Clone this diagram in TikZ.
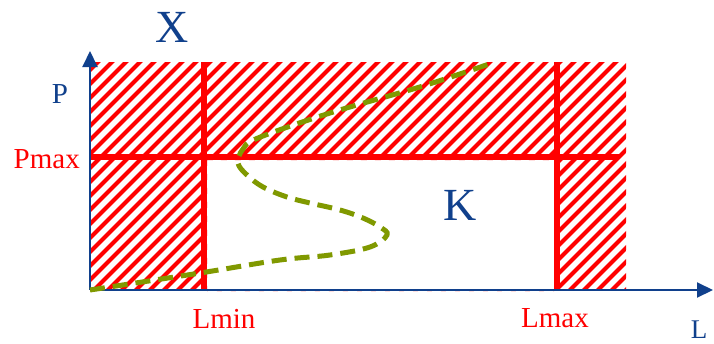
\documentclass[tikz,border=0pt]{standalone}
\usepackage{fontspec}
\setmainfont{Liberation Serif}
\usetikzlibrary{arrows.meta}
\definecolor{axblue}{RGB}{16,64,140}
\definecolor{olive}{RGB}{128,153,0}
\begin{document}
\begin{tikzpicture}[x=1pt,y=-1pt,
  bluetxt/.style={text=axblue,inner sep=0pt,anchor=base},
  redtxt/.style={text=red,inner sep=0pt,anchor=base,font=\fontsize{29}{30}\selectfont},
  limline/.style={red,line width=6pt},
  hatchline/.style={red,line width=4.2pt},
  axis/.style={axblue,line width=2pt,-{Triangle[length=16pt,width=15pt]}},
  traj/.style={olive,line width=5pt,dash pattern=on 15pt off 8pt}]
\useasboundingbox (0,0) rectangle (714,343);
% hatching
\begin{scope}[even odd rule]
\clip (90,62) rectangle (626,290) (207,160) rectangle (554,291);
\foreach \x in {-160,-146,...,640} {
  \draw[hatchline] (\x,292) -- (\x+232,60);
}
\end{scope}
% coordinates
\coordinate (O) at (90,290);
\coordinate (Ptop) at (90,51);
\coordinate (Lend) at (713,290);
\coordinate (pmL) at (90,157);
\coordinate (pmR) at (619,157);
\coordinate (lminT) at (204,62);
\coordinate (lminB) at (204,290);
\coordinate (lmaxT) at (557,62);
\coordinate (lmaxB) at (557,290);
% limit lines
\draw[limline] (pmL) -- (pmR);
\draw[limline] (lminT) -- (lminB);
\draw[limline] (lmaxT) -- (lmaxB);
% axes
\draw[axis] (O) -- (Ptop);
\draw[axis] (O) -- (Lend);
% trajectory
\draw[traj] plot[smooth,tension=0.6] coordinates {(90,290) (200,273) (280,260) (330,255) (370,247) (387,235) (380,227) (363,218) (340,210) (310,203) (287,197) (263,187) (247,175) (238,163) (243,149) (258,138) (330,113) (423,86) (492,63)};
% labels
\node[bluetxt,font=\fontsize{46}{48}\selectfont] (X) at (172,42) {X};
\node[bluetxt,font=\fontsize{46}{48}\selectfont] (K) at (460,220) {K};
\node[bluetxt,font=\fontsize{29}{30}\selectfont] (P) at (60,103) {P};
\node[bluetxt,font=\fontsize{27}{30}\selectfont] (L) at (699,338) {L};
\node[redtxt,anchor=base east] (Pmax) at (80,168) {Pmax};
\node[redtxt] (Lmin) at (224,328) {Lmin};
\node[redtxt] (Lmax) at (555,327) {Lmax};
\end{tikzpicture}
\end{document}
